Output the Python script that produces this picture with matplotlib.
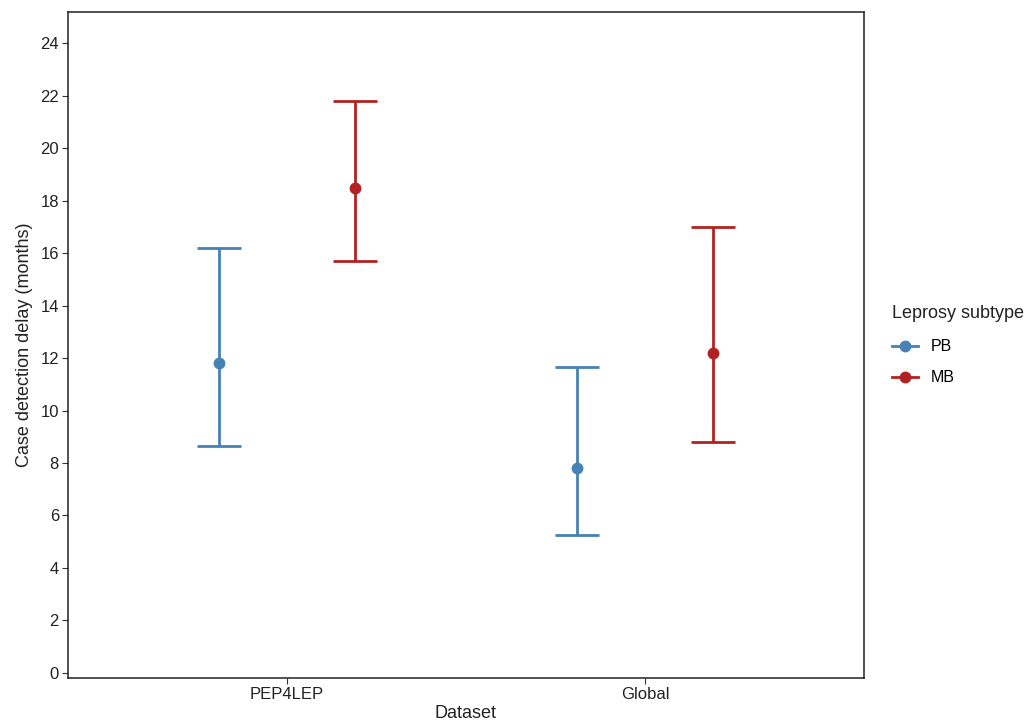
import numpy as np
import matplotlib.pyplot as plt
from matplotlib.lines import Line2D

plt.rcParams["font.family"] = ["Liberation Sans", "DejaVu Sans"]

# Data
datasets = ["PEP4LEP", "Global"]
subtypes = ["PB", "MB"]
colors = ["#4682B4", "#B22222"]
means = {"PB": [11.8, 7.8], "MB": [18.5, 12.2]}
lows = {"PB": [8.65, 5.25], "MB": [15.7, 8.8]}
highs = {"PB": [16.2, 11.65], "MB": [21.8, 17.0]}
yticks = np.arange(0, 25, 2)

fig = plt.figure(figsize=(10.3, 7.24), dpi=100)
ax = fig.add_axes([68 / 1030, 1 - 678 / 724, (864 - 68) / 1030, (678 - 12) / 724])

x = np.arange(1, len(datasets) + 1)
offsets = [-0.19, 0.19]
for sub, col, off in zip(subtypes, colors, offsets):
    m = np.array(means[sub])
    lo = np.array(lows[sub])
    hi = np.array(highs[sub])
    ax.errorbar(x + off, m, yerr=[m - lo, hi - m], fmt="o", color=col,
                ecolor=col, elinewidth=2.0, capsize=16, capthick=2.0,
                markersize=7.5, zorder=3)

ax.set_xlim(0.39, 2.61)
ax.set_ylim(-0.2, 25.2)
ax.set_xticks(x)
ax.set_xticklabels(datasets)
ax.set_yticks(yticks)
ax.tick_params(axis="both", labelsize=12, colors="#333333", length=4,
               width=0.8, labelcolor="#222222", pad=2.5)
for s in ax.spines.values():
    s.set_color("#222222")
    s.set_linewidth(1.1)
ax.set_xlabel("Dataset", fontsize=13, color="#222222", labelpad=2)
ax.set_ylabel("Case detection delay (months)", fontsize=13, color="#222222",
              labelpad=5)

handles = [Line2D([0], [0], color=c, marker="o", markersize=7.5, linewidth=2.0)
           for c in colors]
fig.text(892 / 1030, 1 - 313 / 724, "Leprosy subtype", fontsize=13,
         color="#222222", va="center", ha="left")
leg = fig.legend(handles, subtypes, loc="upper left",
                 bbox_to_anchor=(886 / 1030, 1 - 333 / 724), frameon=False,
                 fontsize=11.5, handlelength=1.6, labelspacing=1.0,
                 handletextpad=0.8, borderaxespad=0)

fig.savefig("out.png", dpi=100)
